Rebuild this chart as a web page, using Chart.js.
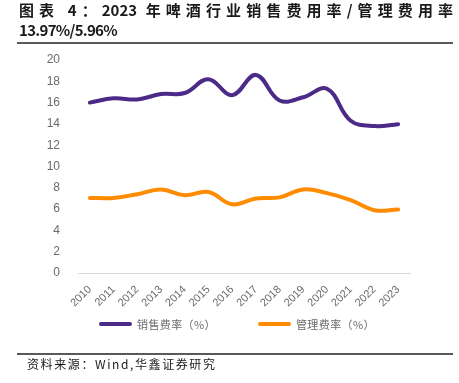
<!DOCTYPE html>
<html><head><meta charset="utf-8">
<script src="https://cdn.jsdelivr.net/npm/chart.js@4.4.0/dist/chart.umd.min.js"></script>
<style>
html,body{margin:0;padding:0;background:#fff;}
#wrap{position:relative;width:459px;height:383px;overflow:hidden;}
#c{position:absolute;left:0;top:0;}
.t1{position:absolute;left:19px;top:1px;width:434px;font-family:"Noto Sans CJK SC";font-weight:700;font-size:15px;line-height:18px;color:#1a1a1a;text-align:justify;text-align-last:justify;white-space:nowrap;}
.t2{position:absolute;left:19px;top:21px;font-family:"Noto Sans CJK SC";font-weight:700;font-size:15px;line-height:18px;letter-spacing:-0.7px;color:#1a1a1a;}
.hr1{position:absolute;left:17px;top:42px;width:436px;height:2px;background:#595959;}
.hr2{position:absolute;left:17px;top:353px;width:436px;height:1.5px;background:#595959;}
.src{position:absolute;left:27px;top:356px;font-family:"Noto Sans CJK SC";font-size:12px;letter-spacing:1.6px;color:#1a1a1a;line-height:16px;}
#legend{position:absolute;left:99px;top:316px;display:flex;align-items:center;font-family:"Noto Sans CJK SC";font-size:11px;letter-spacing:0.4px;color:#6b6b6b;}
.item{display:flex;align-items:center;margin-right:42px;}
.sw{width:33px;height:4px;border-radius:2px;margin-right:5px;}
</style></head>
<body><div id="wrap">
<canvas id="c" width="459" height="383"></canvas>
<div class="t1">图表 4：2023 年啤酒行业销售费用率/管理费用率</div>
<div class="t2">13.97%/5.96%</div>
<div class="hr1"></div>
<div id="legend"></div>
<div class="hr2"></div>
<div class="src">资料来源：Wind,华鑫证券研究</div>
</div>
<script>
const years = ['2010','2011','2012','2013','2014','2015','2016','2017','2018','2019','2020','2021','2022','2023'];
const salesRate = [16.0, 16.4, 16.3, 16.8, 16.9, 18.2, 16.7, 18.6, 16.2, 16.5, 17.3, 14.3, 13.8, 13.97];
const adminRate = [7.05, 7.05, 7.4, 7.85, 7.3, 7.6, 6.45, 7.0, 7.1, 7.85, 7.5, 6.85, 5.9, 5.96];
const seriesNames = ['销售费率（%）', '管理费率（%）'];
const yTicks = [0, 2, 4, 6, 8, 10, 12, 14, 16, 18, 20];

const colors = ['#4b2a88', '#ff8c00'];
const chart = new Chart(document.getElementById('c'), {
  type: 'line',
  data: {
    labels: years,
    datasets: [
      {label: seriesNames[0], data: salesRate, borderColor: colors[0], backgroundColor: colors[0], borderWidth: 4, pointRadius: 0, tension: 0.4, borderCapStyle: 'round'},
      {label: seriesNames[1], data: adminRate, borderColor: colors[1], backgroundColor: colors[1], borderWidth: 4, pointRadius: 0, tension: 0.4, borderCapStyle: 'round'}
    ]
  },
  options: {
    responsive: false,
    animation: false,
    layout: {padding: {left: 38, right: 49, top: 60, bottom: 70}},
    plugins: {legend: {display: false}, tooltip: {enabled: false}},
    scales: {
      x: {
        offset: true,
        grid: {display: false},
        border: {display: true, color: '#d9d9d9', width: 1},
        ticks: {color: '#6b6b6b', font: {family: 'Liberation Sans', size: 11}, minRotation: 45, maxRotation: 45, padding: 2},
        afterFit(s) { s.height = 40; }
      },
      y: {
        min: 0, max: 20,
        grid: {display: false},
        border: {display: false},
        afterBuildTicks(s) { s.ticks = yTicks.map(v => ({value: v})); },
        ticks: {color: '#6b6b6b', font: {family: 'Liberation Sans', size: 12}, padding: 10},
        afterFit(s) { s.width = 40; }
      }
    }
  }
});
const lg = document.getElementById('legend');
chart.data.datasets.forEach(ds => {
  const it = document.createElement('div'); it.className = 'item';
  const sw = document.createElement('div'); sw.className = 'sw'; sw.style.background = ds.borderColor;
  const tx = document.createElement('span'); tx.textContent = ds.label;
  it.appendChild(sw); it.appendChild(tx); lg.appendChild(it);
});
</script>
</body></html>
